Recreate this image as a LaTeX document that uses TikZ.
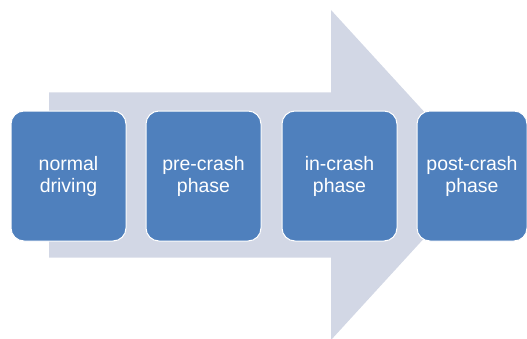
\documentclass[tikz,border=0pt]{standalone}
\usepackage{fontspec}
\setmainfont{Liberation Sans}
\usepackage{xcolor}
\definecolor{Blue}{RGB}{79,128,189}
\definecolor{Grey}{RGB}{210,215,229}
\definecolor{White}{RGB}{255,255,255}
\usepackage{tikz}

\tikzset{
	phasebox/.style={rectangle, fill=Blue, draw=White, line width=1pt, rounded corners=13pt,
		minimum width=115pt, minimum height=130pt, align=center, text=White,
		font=\fontsize{19.5}{22}\selectfont, inner sep=0pt}
}

\begin{document}
\begin{tikzpicture}[x=1pt, y=1pt]
		
		\useasboundingbox (0,0) rectangle (527,338);
		
		% Arrow
		\fill[Grey] (49,80.5) -- (49,245.5) -- (331,245.5) -- (331,328) -- (482,163) -- (331,-2) -- (331,80.5) -- cycle;
		
		% Blocks
		\node[phasebox] (normal) at (68.5,162) {normal\\driving};
		\node[phasebox] (precrash) at (203.5,162) {pre-crash\\phase};
		\node[phasebox] (incrash) at (339.5,162) {in-crash\\phase};
		\node[phasebox, minimum width=110pt] (postcrash) at (472,162) {post-crash\\phase};
		
	\end{tikzpicture}
\end{document}
